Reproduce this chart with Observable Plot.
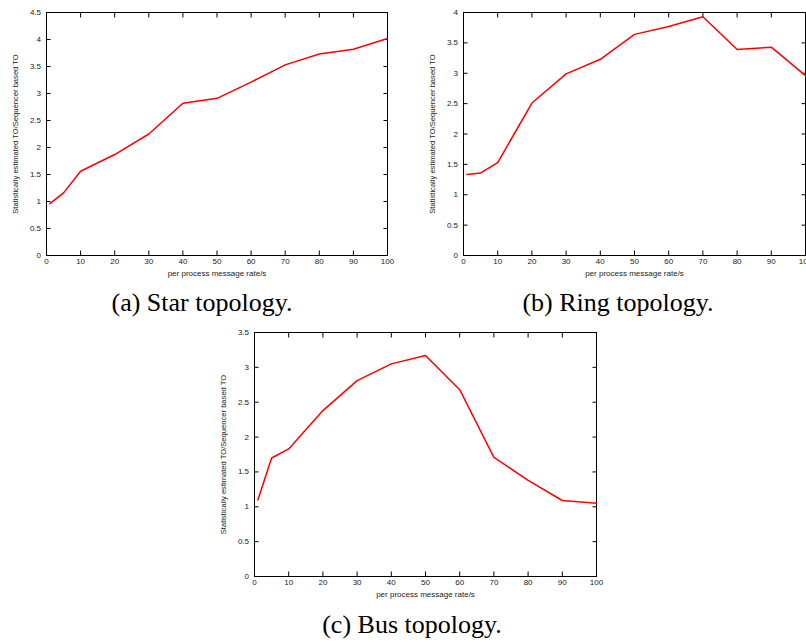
<!DOCTYPE html>
<html><head><meta charset="utf-8">
<script src="https://cdn.jsdelivr.net/npm/d3@7"></script>
<script src="https://cdn.jsdelivr.net/npm/@observablehq/plot@0.6"></script>
<style>
html,body{margin:0;padding:0;background:#fff;overflow:hidden;}
#root{position:relative;width:806px;height:642px;overflow:hidden;background:#fff;}
.panel{position:absolute;}
.cap{position:absolute;width:320px;text-align:center;font-family:"Liberation Serif","Times New Roman",serif;font-size:26px;line-height:30px;color:#000;white-space:nowrap;}
</style></head><body><div id="root"></div>
<script>
// ---- data ----
const rates = [1, 5, 10, 20, 30, 40, 50, 60, 70, 80, 90, 100];
const star  = [0.96, 1.16, 1.56, 1.87, 2.25, 2.82, 2.91, 3.21, 3.53, 3.73, 3.82, 4.02];
const ring  = [1.335, 1.36, 1.53, 2.51, 2.99, 3.23, 3.64, 3.77, 3.93, 3.39, 3.43, 2.96];
const bus   = [1.10, 1.70, 1.83, 2.38, 2.81, 3.05, 3.17, 2.68, 1.71, 1.38, 1.09, 1.05];
const xTicks = [0, 10, 20, 30, 40, 50, 60, 70, 80, 90, 100];
const yTicksStar = [0, 0.5, 1, 1.5, 2, 2.5, 3, 3.5, 4, 4.5];
const yTicksRing = [0, 0.5, 1, 1.5, 2, 2.5, 3, 3.5, 4];
const yTicksBus  = [0, 0.5, 1, 1.5, 2, 2.5, 3, 3.5];
const xLabel = "per process message rate/s";
const yLabel = "Statistically estimated TO/Sequencer based TO";
const captions = ["(a) Star topology.", "(b) Ring topology.", "(c) Bus topology."];

const root = document.getElementById("root");

function panel(values, yTicks, cfg) {
  const data = rates.map((r, i) => ({rate: r, ratio: values[i]}));
  const yMax = yTicks[yTicks.length - 1];
  const chart = Plot.plot({
    width: cfg.width, height: cfg.height,
    marginLeft: 46, marginRight: cfg.mr, marginTop: 12, marginBottom: 30,
    style: {fontFamily: "'Liberation Sans', Arial, sans-serif", fontSize: "8px", color: "#222", background: "transparent", overflow: "visible"},
    x: {domain: [0, 100]},
    y: {domain: [0, yMax]},
    marks: [
      Plot.axisX(xTicks, {anchor: "bottom", tickSize: -4.5, tickPadding: 7.5, label: null, tickFormat: d => String(d), stroke: "#000"}),
      Plot.axisX(xTicks, {anchor: "top", tickSize: -4.5, label: null, tickFormat: () => "", stroke: "#000"}),
      Plot.axisY(yTicks, {anchor: "left", tickSize: -4.5, tickPadding: 10, label: null, tickFormat: d => String(d), stroke: "#000"}),
      Plot.axisY(yTicks, {anchor: "right", tickSize: -4.5, label: null, tickFormat: () => "", stroke: "#000"}),
      Plot.frame({stroke: "#000", strokeWidth: 1}),
      Plot.line(data, {x: "rate", y: "ratio", stroke: "#ff0000", strokeWidth: 1.5}),
      Plot.text([xLabel], {frameAnchor: "bottom", dy: 20, text: d => d, fontSize: 8, fill: "#222", textAnchor: "middle"}),
      Plot.text([yLabel], {frameAnchor: "left", dx: -31, rotate: -90, text: d => d, fontSize: 7.6, fill: "#222", textAnchor: "middle"})
    ]
  });
  chart.classList.add("panel");
  chart.style.left = cfg.left + "px";
  chart.style.top = cfg.top + "px";
  root.appendChild(chart);
}

panel(star, yTicksStar, {left: 0, top: 0, width: 400, height: 285, mr: 13});
panel(ring, yTicksRing, {left: 417, top: 0, width: 389, height: 285, mr: 1});
panel(bus, yTicksBus, {left: 208, top: 320, width: 400, height: 286, mr: 12});

const capPos = [[202, 303], [618, 303], [412, 625]];
captions.forEach((t, i) => {
  const d = document.createElement("div");
  d.className = "cap";
  d.textContent = t;
  d.style.left = (capPos[i][0] - 160) + "px";
  d.style.top = (capPos[i][1] - 15) + "px";
  root.appendChild(d);
});
</script>
</body></html>
